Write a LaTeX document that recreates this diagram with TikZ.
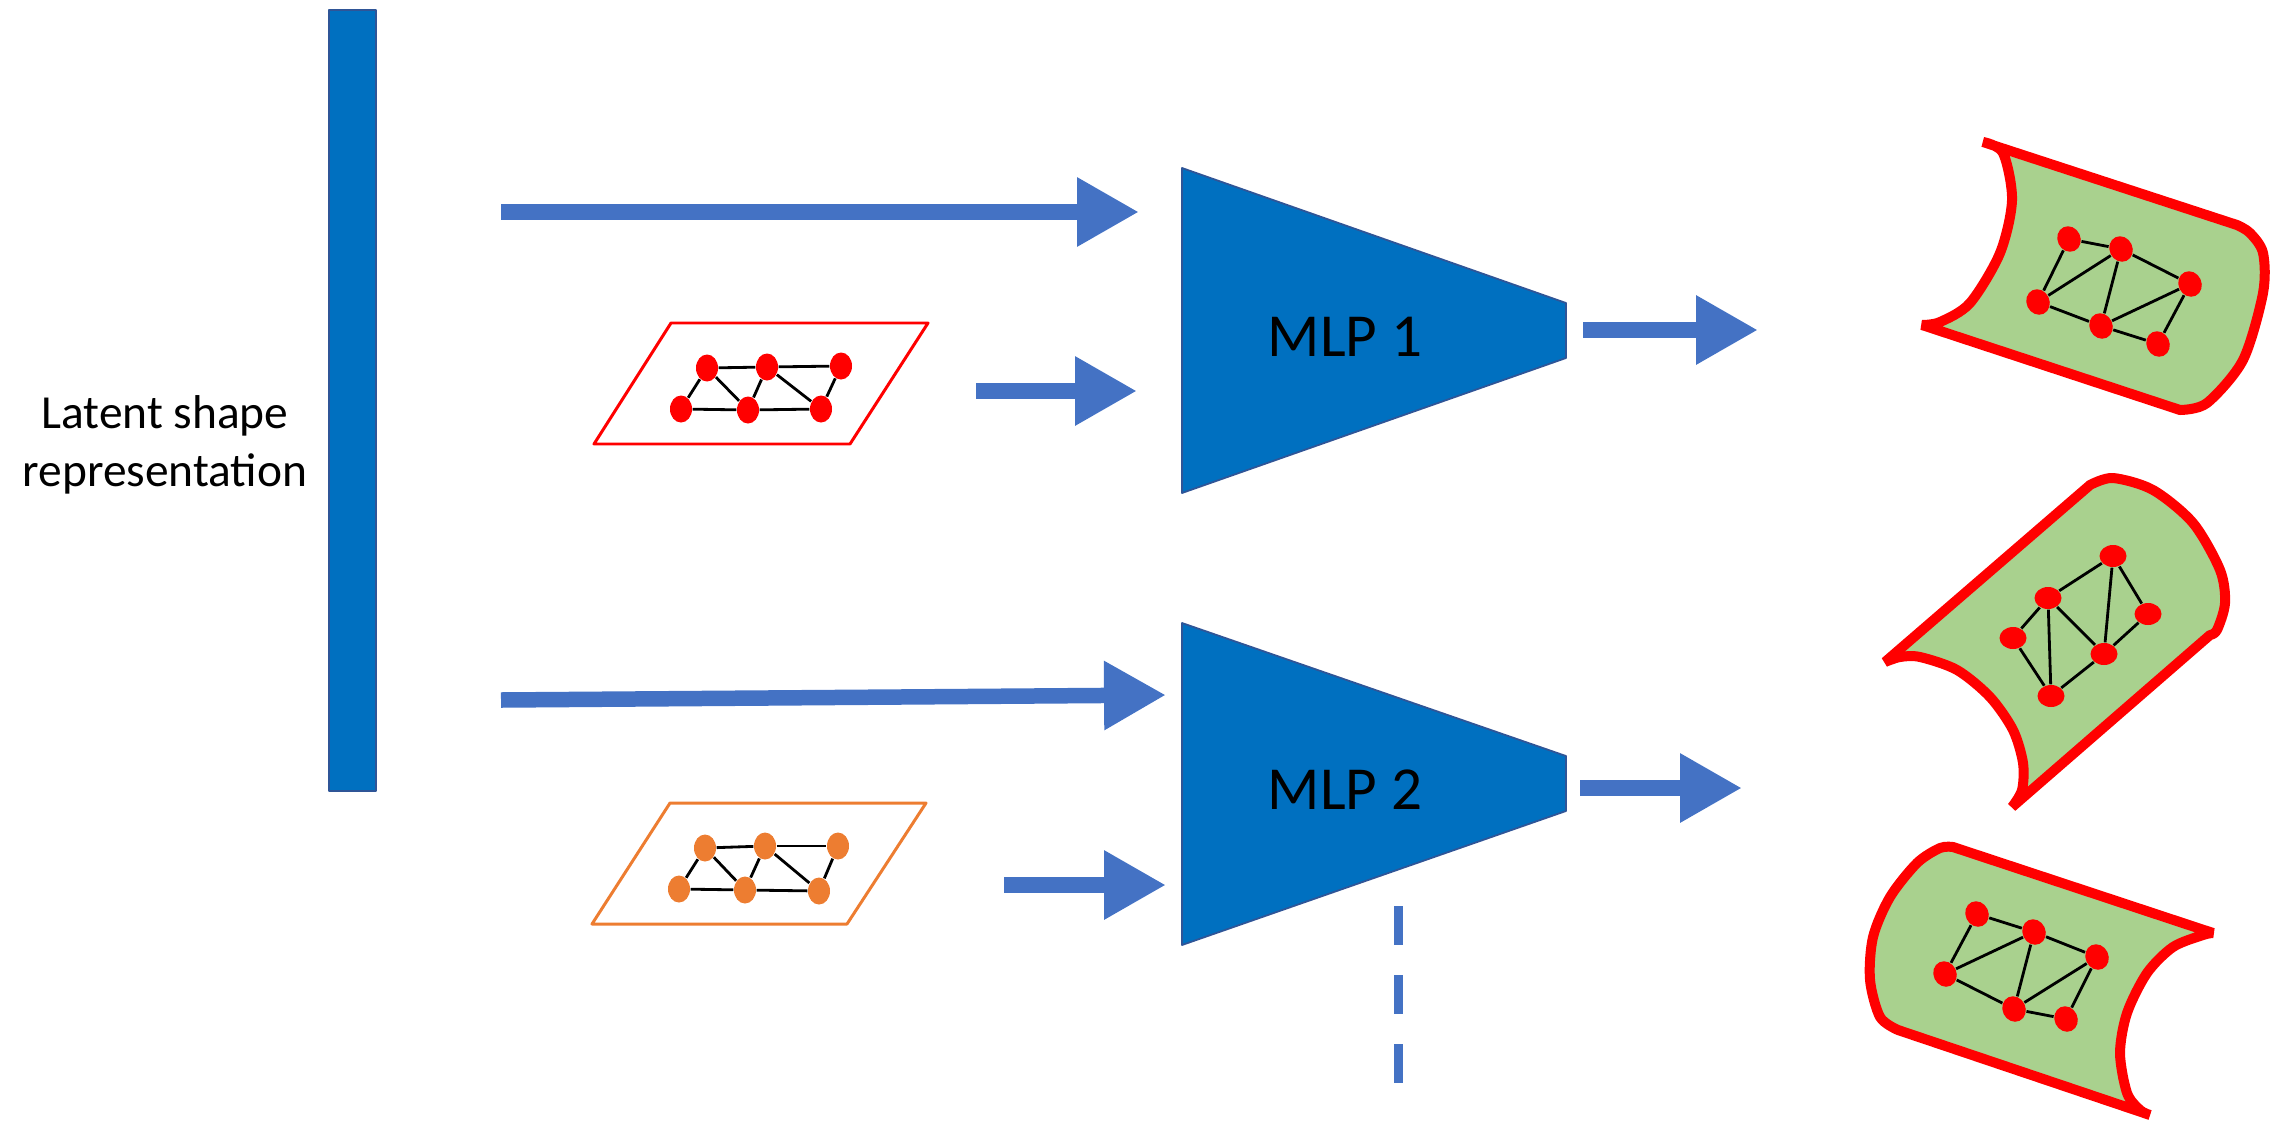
\documentclass[tikz,border=0pt]{standalone}
\usepackage{fontspec}
\setmainfont{Carlito}
\usetikzlibrary{arrows.meta,shapes.geometric}
\definecolor{latentblue}{HTML}{0070C0}
\definecolor{arrowblue}{HTML}{4472C4}
\definecolor{mlpedge}{HTML}{2F5597}
\definecolor{planeorange}{HTML}{ED7D31}
\definecolor{surfgreen}{HTML}{A9D18E}
\begin{document}
\begin{tikzpicture}[y=-1cm,line join=round,
	blockarrow/.style={draw=arrowblue,line width=1.55mm,-{Triangle[length=6.2mm,width=6.5mm]}},
	mlp/.style={fill=latentblue,draw=mlpedge,line width=0.5pt},
	vert/.style={ellipse,inner sep=0pt,minimum width=2.2mm,minimum height=2.7mm},
	svert/.style={ellipse,inner sep=0pt,fill=red,minimum width=2.3mm,minimum height=2.6mm},
	surf/.style={fill=surfgreen,draw=red,line width=1mm,line join=bevel},
	edge/.style={line width=0.8pt}]
	\useasboundingbox (0,0) rectangle (22.76,11.26);
	% latent code
	\node[fill=latentblue,draw=mlpedge,line width=0.3pt,inner sep=0pt,minimum width=4.7mm,minimum height=78.1mm] (latent) at (3.525,4.005) {};
	\node[align=center,font=\fontsize{13.5}{16.5}\selectfont] (latentlabel) at (1.65,4.45) {Latent shape\\representation};
	% the two decoders
	\draw[mlp] (11.82,1.68)--(15.66,3.03)--(15.66,3.58)--(11.82,4.93)--cycle;
	\draw[mlp] (11.82,6.23)--(15.66,7.56)--(15.66,8.11)--(11.82,9.45)--cycle;
	\node[font=\fontsize{17.4}{20}\selectfont] (mlp1) at (13.45,3.37) {MLP 1};
	\node[font=\fontsize{17.4}{20}\selectfont] (mlp2) at (13.45,7.90) {MLP 2};
	\draw[arrowblue,line width=0.9mm,dash pattern=on 3.9mm off 3mm] (13.98,9.06)--(13.98,10.86);
	% arrow ends
	\coordinate (z1) at (5.01,2.12); \coordinate (m1a) at (11.39,2.12);
	\coordinate (p1) at (9.76,3.91); \coordinate (m1b) at (11.37,3.91);
	\coordinate (o1) at (15.83,3.30); \coordinate (s1) at (17.58,3.30);
	\coordinate (z2) at (5.01,7.00); \coordinate (m2a) at (11.66,6.95);
	\coordinate (p2) at (10.04,8.85); \coordinate (m2b) at (11.66,8.85);
	\coordinate (o2) at (15.80,7.88); \coordinate (s2) at (17.42,7.88);
	\foreach \a/\b in {z1/m1a,p1/m1b,o1/s1,z2/m2a,p2/m2b,o2/s2} \draw[blockarrow] (\a)--(\b);
	% sampled planes
	\draw[red,line width=0.85pt] (6.71,3.23)--(9.28,3.23)--(8.50,4.44)--(5.94,4.44)--cycle;
	\foreach \n/\x/\y in {1/7.07/3.68,2/7.67/3.67,3/8.41/3.66,4/6.81/4.09,5/7.48/4.10,6/8.21/4.09}
		\node[vert,fill=red] (r\n) at (\x,\y) {};
	\foreach \a/\b in {1/2,2/3,1/4,1/5,4/5,2/5,2/6,5/6,3/6} \draw[edge] (r\a)--(r\b);
	\draw[planeorange,line width=0.85pt] (6.70,8.03)--(9.26,8.03)--(8.47,9.24)--(5.92,9.24)--cycle;
	\foreach \n/\x/\y in {1/7.05/8.48,2/7.65/8.46,3/8.38/8.46,4/6.79/8.89,5/7.45/8.90,6/8.19/8.91}
		\node[vert,fill=planeorange] (q\n) at (\x,\y) {};
	\foreach \a/\b in {1/2,2/3,1/4,1/5,4/5,2/5,2/6,5/6,3/6} \draw[edge] (q\a)--(q\b);
	% output patches
	\draw[surf] (19.83,1.42)--(22.37,2.25)
		-- plot[smooth] coordinates {(22.37,2.25) (22.50,2.33) (22.63,2.53) (22.63,2.93) (22.43,3.60) (22.07,4.03) (21.80,4.10)}
		-- (19.22,3.25)
		-- plot[smooth] coordinates {(19.22,3.25) (19.40,3.22) (19.70,3.03) (20.00,2.53) (20.12,2.00) (20.03,1.53) (19.83,1.42)} -- cycle;
	\foreach \n/\x/\y in {1/20.69/2.39,2/21.21/2.49,3/21.90/2.84,4/20.38/3.02,5/21.01/3.26,6/21.58/3.44}
		\node[svert,rotate=25] (a\n) at (\x,\y) {};
	\foreach \a/\b in {1/2,1/4,2/4,2/5,2/3,4/5,5/3,5/6,3/6} \draw[edge] (a\a)--(a\b);
	\draw[surf] (18.85,6.62)--(20.90,4.85)
		-- plot[smooth] coordinates {(20.90,4.85) (21.13,4.78) (21.53,4.90) (21.93,5.23) (22.20,5.70) (22.25,6.03) (22.17,6.30) (22.10,6.35)}
		-- (20.12,8.07)
		-- plot[smooth] coordinates {(20.12,8.07) (20.22,7.90) (20.23,7.63) (20.13,7.30) (19.90,6.97) (19.57,6.70) (19.20,6.57) (19.00,6.57) (18.85,6.62)} -- cycle;
	\foreach \n/\x/\y in {1/21.13/5.56,2/20.48/5.98,3/21.48/6.14,4/20.13/6.38,5/21.04/6.54,6/20.51/6.96}
		\node[svert,minimum width=2.7mm,minimum height=2.2mm] (b\n) at (\x,\y) {};
	\foreach \a/\b in {1/2,1/5,1/3,2/4,2/6,2/5,3/5,4/6,6/5} \draw[edge] (b\a)--(b\b);
	\draw[surf] (19.53,8.47)--(22.13,9.33)
		-- plot[smooth] coordinates {(22.13,9.33) (22.03,9.35) (21.73,9.47) (21.47,9.73) (21.27,10.13) (21.20,10.53) (21.27,10.93) (21.40,11.10) (21.50,11.15)}
		-- (18.98,10.30)
		-- plot[smooth] coordinates {(18.98,10.30) (18.80,10.17) (18.70,9.80) (18.73,9.37) (18.90,8.97) (19.17,8.63) (19.40,8.48) (19.53,8.47)} -- cycle;
	\foreach \n/\x/\y in {1/19.77/9.14,2/20.34/9.32,3/20.97/9.57,4/19.45/9.74,5/20.14/10.09,6/20.66/10.19}
		\node[svert,rotate=25] (c\n) at (\x,\y) {};
	\foreach \a/\b in {1/2,1/4,4/2,2/3,2/5,4/5,5/3,5/6,3/6} \draw[edge] (c\a)--(c\b);
\end{tikzpicture}
\end{document}
